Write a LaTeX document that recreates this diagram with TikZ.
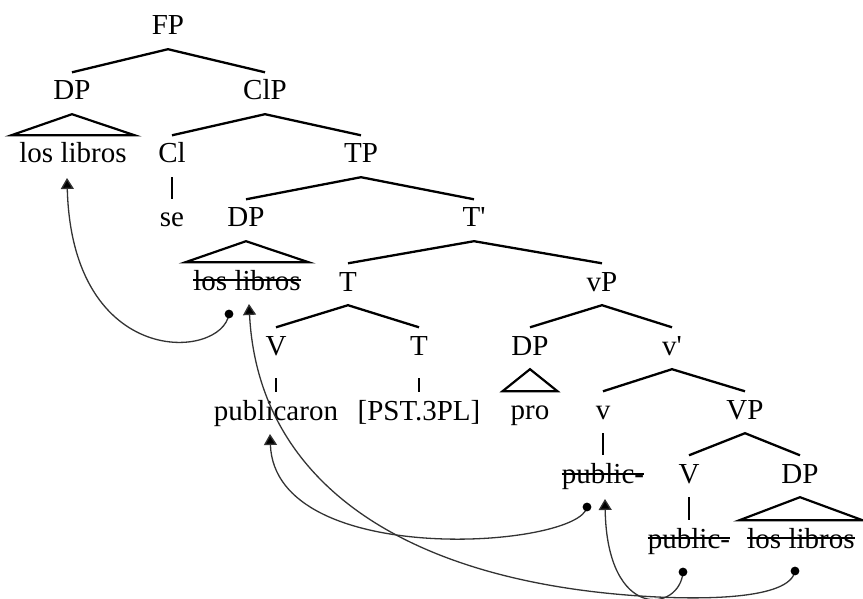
\documentclass[tikz,border=0pt]{standalone}
\usepackage{fontspec}
\setmainfont{Liberation Serif}[Ligatures=TeXOff]
\usetikzlibrary{arrows.meta}
\begin{document}
\begin{tikzpicture}[x=1pt,y=-1pt,
  lbl/.style={anchor=base,inner xsep=8pt,inner ysep=8pt,text height=19.5pt,text depth=6pt,font=\fontsize{29}{34}\selectfont},
  branch/.style={line width=2.3pt},
  unary/.style={line width=2.2pt},
  tri/.style={line width=2.2pt,line join=miter},
  strike/.style={line width=1.6pt,shorten <=8pt,shorten >=8pt},
  mv/.style={draw=black!80,line width=1.3pt,-{Triangle[width=13pt,length=11pt,fill=black]}},
  dotm/.style={fill=black,radius=4.4pt}]
\useasboundingbox (0,0) rectangle (863,599);
% nodes
\node[lbl] (FP) at (168,35) {FP};
\node[lbl] (DP1) at (72,100) {DP};
\node[lbl] (ClP) at (265,100) {ClP};
\node[lbl] (ll1) at (73,163) {los libros};
\node[lbl] (Cl) at (172,163) {Cl};
\node[lbl] (TP) at (361,163) {TP};
\node[lbl] (se) at (172,227) {se};
\node[lbl] (DP2) at (246,227) {DP};
\node[lbl] (Tb) at (474,227) {T'};
\node[lbl] (ll2) at (247,290) {los libros};
\node[lbl] (T1) at (348,291) {T};
\node[lbl] (vP) at (602,291) {vP};
\node[lbl] (V1) at (276,355) {V};
\node[lbl] (T2) at (419,355) {T};
\node[lbl] (DP3) at (530,355) {DP};
\node[lbl] (vb) at (672,355) {v'};
\node[lbl] (pub) at (276,420) {publicaron};
\node[lbl] (pst) at (419,420) {[PST.3PL]};
\node[lbl] (pro) at (530,419) {pro};
\node[lbl] (v) at (603,419) {v};
\node[lbl] (VP) at (745,419) {VP};
\node[lbl] (pub2) at (603,483) {public-};
\node[lbl] (V2) at (689,483) {V};
\node[lbl] (DP4) at (800,483) {DP};
\node[lbl] (pub3) at (689,548) {public-};
\node[lbl] (ll3) at (801,548) {los libros};
% branches
\draw[branch] (DP1.north) -- (FP.south) -- (ClP.north);
\draw[branch] (Cl.north) -- (ClP.south) -- (TP.north);
\draw[branch] (DP2.north) -- (TP.south) -- (Tb.north);
\draw[branch] (T1.north) -- (Tb.south) -- (vP.north);
\draw[branch] (V1.north) -- (T1.south) -- (T2.north);
\draw[branch] (DP3.north) -- (vP.south) -- (vb.north);
\draw[branch] (v.north) -- (vb.south) -- (VP.north);
\draw[branch] (V2.north) -- (VP.south) -- (DP4.north);
% unary
\draw[unary] (Cl.south) -- (se.north);
\draw[unary,shorten <=9pt] (V1.south) -- (pub.north);
\draw[unary,shorten <=9pt] (T2.south) -- (pst.north);
\draw[unary] (v.south) -- (pub2.north);
\draw[unary] (V2.south) -- (pub3.north);
% triangles
\draw[tri] (DP1.south) -- (ll1.north west) -- (ll1.north east) -- cycle;
\draw[tri] (DP2.south) -- (ll2.north west) -- (ll2.north east) -- cycle;
\draw[tri] (DP3.south) -- (pro.north west) -- (pro.north east) -- cycle;
\draw[tri] (DP4.south) -- (ll3.north west) -- (ll3.north east) -- cycle;
% strikes
\draw[strike] ([yshift=10pt]ll2.base west) -- ([yshift=10pt]ll2.base east);
\draw[strike] ([yshift=9pt]pub2.base west) -- ([yshift=9pt]pub2.base east);
\draw[strike] ([yshift=10pt]pub3.base west) -- ([yshift=10pt]pub3.base east);
\draw[strike] ([yshift=10pt]ll3.base west) -- ([yshift=10pt]ll3.base east);
% movement arrows
\coordinate (a1s) at (229,314); \coordinate (a1t) at (67,178);
\coordinate (a2s) at (587,507); \coordinate (a2t) at (270,434);
\coordinate (a3s) at (795,571); \coordinate (a3m) at (640,596); \coordinate (a3t) at (249,304);
\coordinate (a4s) at (683,572); \coordinate (a4t) at (605,499);
\draw[mv] (a1s) .. controls (222,360) and (72,370) .. (a1t);
\draw[mv] (a2s) .. controls (580,548) and (275,570) .. (a2t);
\draw[mv] (a3s) .. controls (790,600) and (700,600) .. (a3m) .. controls (400,580) and (258,480) .. (a3t);
\draw[mv] (a4s) .. controls (680,612) and (607,622) .. (a4t);
\fill[dotm] (a1s) circle; \fill[dotm] (a2s) circle; \fill[dotm] (a3s) circle; \fill[dotm] (a4s) circle;
\end{tikzpicture}
\end{document}
